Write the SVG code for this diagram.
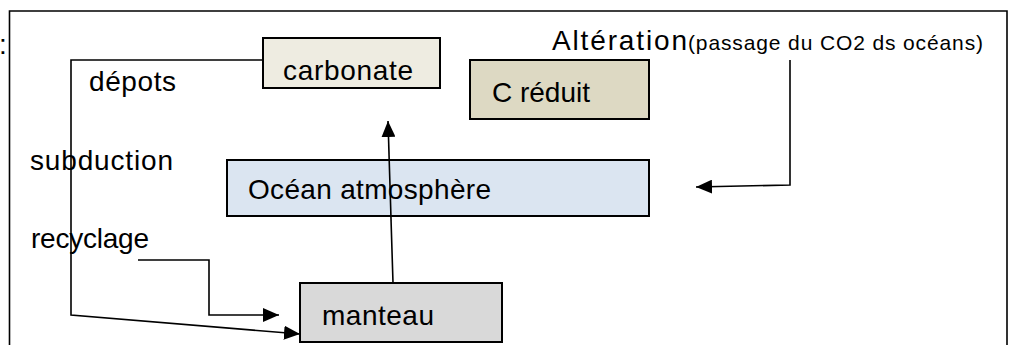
<svg xmlns="http://www.w3.org/2000/svg" width="1014" height="345" viewBox="0 0 1014 345">
<defs>
<style>
.box{stroke:#000;stroke-width:2}
.t{font-family:"Liberation Sans",Arial,sans-serif;font-size:28px;fill:#000}
.s{font-family:"Liberation Sans",Arial,sans-serif;font-size:21px;fill:#000}
.c{fill:none;stroke:#000;stroke-width:1.6;marker-end:url(#ah)}
.frame{fill:none;stroke:#000;stroke-width:1.6}
</style>
<marker id="ah" markerUnits="userSpaceOnUse" markerWidth="16" markerHeight="14" refX="16" refY="7" orient="auto">
<path d="M0,0 L16,7 L0,14 z" fill="#000"/>
</marker>
</defs>
<rect width="1014" height="345" fill="#fff"/>
<path class="frame" d="M9.5,345 V11 H1007 V345"/>
<text class="t" x="-1" y="54">:</text>
<g id="labels">
<text class="t" x="89" y="91" textLength="87">dépots</text>
<text class="t" x="30" y="170" textLength="143">subduction</text>
<text class="t" x="31" y="248" textLength="118">recyclage</text>
<text x="552" y="50"><tspan class="t" textLength="135">Altération</tspan><tspan class="s" x="688" textLength="295">(passage du CO2 ds océans)</tspan></text>
</g>
<g id="carbonate">
<rect class="box" x="263" y="38" width="177" height="50" fill="#EEECE1"/>
<text class="t" x="283" y="80" textLength="130">carbonate</text>
</g>
<g id="c-reduit">
<rect class="box" x="470" y="60" width="179" height="59" fill="#DDD9C3"/>
<text class="t" x="492" y="102" textLength="98">C réduit</text>
</g>
<g id="ocean">
<rect class="box" x="227" y="160" width="422" height="56" fill="#DBE5F1"/>
<text class="t" x="248" y="199" textLength="243">Océan atmosphère</text>
</g>
<g id="manteau">
<rect class="box" x="300" y="283" width="202" height="59" fill="#D9D9D9"/>
<text class="t" x="322" y="325" textLength="112">manteau</text>
</g>
<g id="connectors">
<path class="c" d="M263,60 H71 V315 L300,334"/>
<path class="c" d="M138,260 H209 V315 H279"/>
<path class="c" d="M393,283 L388,121"/>
<path class="c" d="M790,60 V185 L696,187"/>
</g>
</svg>
